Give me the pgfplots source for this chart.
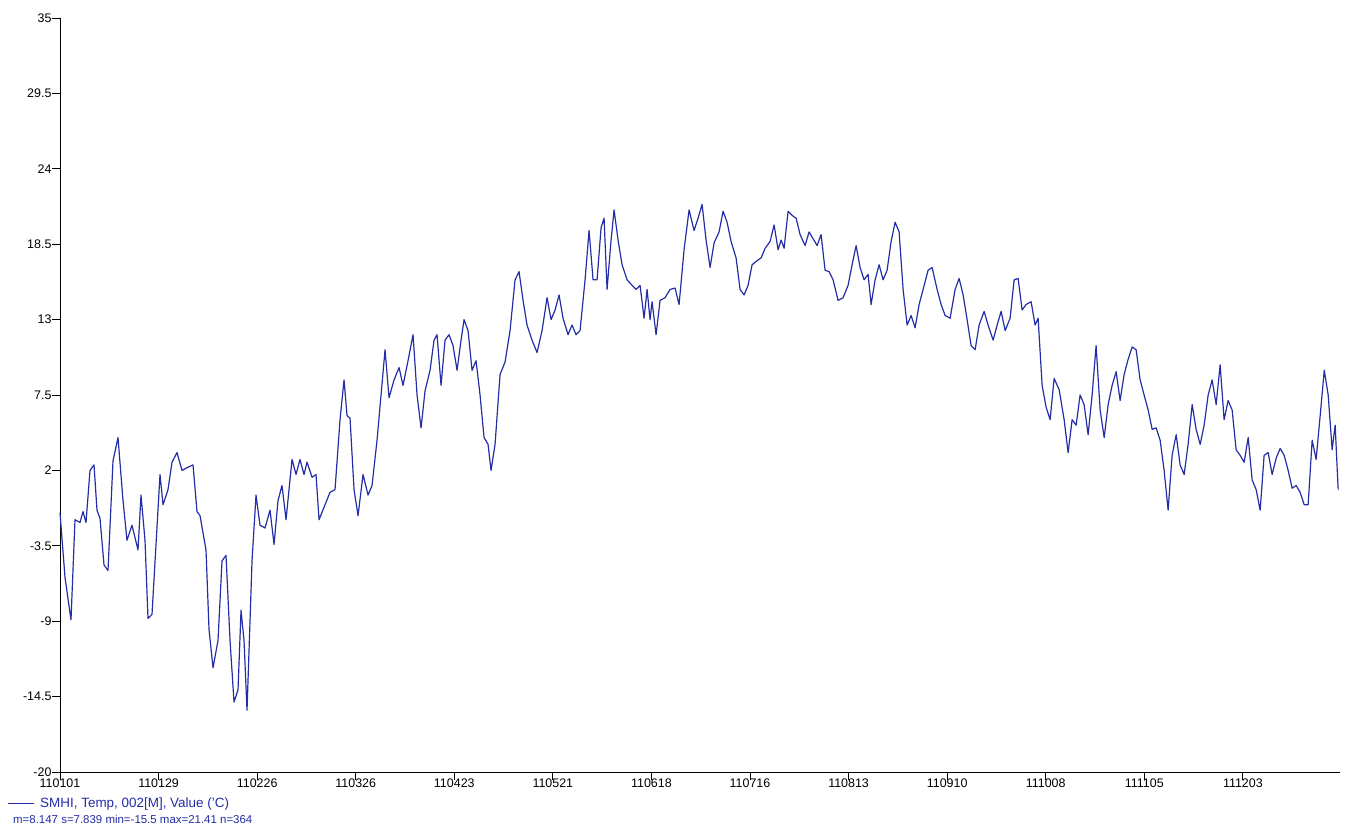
\documentclass[border=0pt]{standalone}
\usepackage{pgfplots}
\pgfplotsset{compat=1.18}
\usepackage{fontspec}
\setmainfont{Liberation Sans}
\definecolor{lc}{RGB}{35,45,165}
\begin{document}
\begin{tikzpicture}
\begin{axis}[scale only axis, width=1280bp, height=754bp,
 xmin=0, xmax=363.6, ymin=-20, ymax=35,
 axis x line*=bottom, axis y line*=left, axis line style={black,line width=0.8pt},
 tick style={black,line width=0.8pt}, tick align=outside, major tick length=8bp,
 ytick={-20,-14.5,-9,-3.5,2,7.5,13,18.5,24,29.5,35},
 yticklabels={-20,-14.5,-9,-3.5,2,7.5,13,18.5,24,29.5,35},
 xtick={0,28,56,84,112,140,168,196,224,252,280,308,336},
 xticklabels={110101,110129,110226,110326,110423,110521,110618,110716,110813,110910,111008,111105,111203},
 tick label style={font=\fontsize{12.5}{14}\selectfont},
 yticklabel style={xshift=3bp},
 xticklabel style={yshift=5bp},
 clip=false]
\addplot[lc, line width=1.2pt, line join=round] table[x expr=(\thisrowno{0}-60)/3.52, y index=1] {
px v
60 -1.1
65 -5.8
71 -8.9
75 -1.6
80 -1.8
83 -1.0
86 -1.8
90 2.0
94 2.4
97 -0.9
100 -1.5
104 -4.9
108 -5.3
113 2.7
118 4.4
123 -0.2
127 -3.1
132 -2.0
138 -3.8
141 0.2
145 -3.1
148 -8.8
152 -8.5
160 1.7
163 -0.5
168 0.6
172 2.6
177 3.3
182 2.0
187 2.2
193 2.4
197 -1.0
200 -1.3
206 -3.8
209 -9.6
213 -12.4
218 -10.4
222 -4.6
226 -4.2
230 -10.4
234 -14.9
238 -14.0
241 -8.2
244 -10.4
247 -15.5
252 -4.6
256 0.2
260 -2.0
265 -2.2
270 -0.9
274 -3.4
278 -0.2
282 0.9
286 -1.6
292 2.8
296 1.7
300 2.8
304 1.7
307 2.6
312 1.5
316 1.7
319 -1.6
325 -0.5
330 0.4
335 0.6
340 5.7
344 8.6
347 6.0
350 5.8
354 0.6
358 -1.3
363 1.7
368 0.2
372 0.9
377 4.2
381 7.5
385 10.8
389 7.3
394 8.6
399 9.5
403 8.2
408 10.0
413 11.9
417 7.5
421 5.1
425 7.8
430 9.3
434 11.5
437 11.9
441 8.2
445 11.5
449 11.9
453 11.1
457 9.3
461 11.5
464 13.0
468 12.2
472 9.3
476 10.0
480 7.5
484 4.4
488 3.9
491 2.0
495 3.9
500 9.0
505 9.9
510 12.2
515 15.9
519 16.5
523 14.4
527 12.6
532 11.5
537 10.6
542 12.2
547 14.6
551 13.0
555 13.7
559 14.8
563 13.1
568 11.9
572 12.6
576 11.9
580 12.2
585 15.9
589 19.5
593 15.9
597 15.9
601 19.7
604 20.4
607 15.2
611 18.8
614 21.0
618 18.8
622 17.0
627 15.9
632 15.5
636 15.2
640 15.5
644 13.1
647 15.2
650 13.0
652 14.3
656 11.9
660 14.4
665 14.6
670 15.2
675 15.3
679 14.1
684 18.1
689 21.0
694 19.5
698 20.4
702 21.4
706 18.8
710 16.8
714 18.6
719 19.4
723 20.9
727 20.1
731 18.7
736 17.5
740 15.2
744 14.8
748 15.5
752 17.0
757 17.3
761 17.5
765 18.2
770 18.7
774 19.9
778 18.1
781 18.8
784 18.2
788 20.9
792 20.6
796 20.4
800 19.2
805 18.4
809 19.4
813 18.9
817 18.4
821 19.2
825 16.6
829 16.5
833 15.9
838 14.4
843 14.6
848 15.5
852 17.0
856 18.4
860 16.8
864 15.9
868 16.3
871 14.1
875 15.9
879 17.0
883 15.9
887 16.6
891 18.7
895 20.1
899 19.4
903 15.2
907 12.6
911 13.3
915 12.4
919 14.1
923 15.2
928 16.6
932 16.8
937 15.2
941 14.1
945 13.3
950 13.1
955 15.2
959 16.0
963 14.8
967 13.0
971 11.1
975 10.8
979 12.6
984 13.6
988 12.6
993 11.5
997 12.6
1001 13.6
1005 12.2
1010 13.1
1014 15.9
1018 16.0
1022 13.7
1026 14.1
1031 14.3
1035 12.6
1038 13.1
1042 8.2
1046 6.6
1050 5.7
1054 8.7
1059 7.9
1064 5.7
1068 3.3
1072 5.7
1076 5.3
1080 7.5
1084 6.8
1088 4.6
1092 7.5
1096 11.1
1100 6.4
1104 4.4
1108 6.8
1112 8.2
1116 9.2
1120 7.1
1124 9.0
1128 10.1
1132 11.0
1136 10.8
1140 8.6
1144 7.5
1148 6.4
1152 5.0
1156 5.1
1160 4.2
1164 2.0
1168 -0.9
1172 3.1
1176 4.6
1180 2.4
1184 1.7
1188 3.9
1192 6.8
1196 5.0
1200 3.9
1204 5.3
1208 7.5
1212 8.6
1216 6.8
1220 9.7
1224 5.7
1228 7.1
1232 6.4
1236 3.5
1240 3.1
1244 2.6
1248 4.4
1252 1.3
1256 0.6
1260 -0.9
1264 3.1
1268 3.3
1272 1.7
1276 2.9
1280 3.6
1284 3.1
1288 2.0
1292 0.7
1296 0.9
1300 0.4
1304 -0.5
1308 -0.5
1312 4.2
1316 2.8
1320 6.0
1324 9.3
1328 7.5
1332 3.5
1335 5.3
1338 0.6
};
\coordinate (sw) at (rel axis cs:0,0);
\end{axis}
\draw[lc, line width=0.8pt] ([shift={(-52bp,-31bp)}]sw) -- ([shift={(-26bp,-31bp)}]sw);
\node[lc, anchor=west, inner sep=0pt, font=\fontsize{13.5}{15}\selectfont] at ([shift={(-20bp,-32bp)}]sw) {SMHI, Temp, 002[M], Value ('C)};
\node[lc, anchor=west, inner sep=0pt, font=\fontsize{11.5}{13}\selectfont] at ([shift={(-47bp,-47bp)}]sw) {m=8.147 s=7.839 min=-15.5 max=21.41 n=364};
\path[use as bounding box] ([shift={(-60bp,-60bp)}]sw) rectangle ([shift={(1292bp,772bp)}]sw);
\end{tikzpicture}
\end{document}
